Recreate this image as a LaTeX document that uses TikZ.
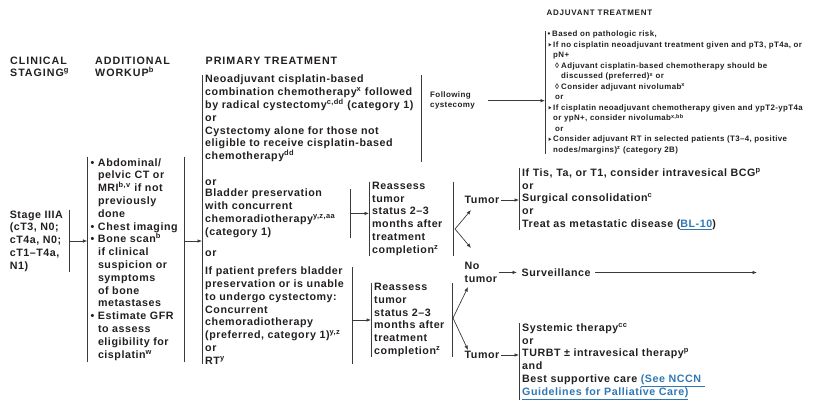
\documentclass[tikz,border=0pt]{standalone}
\usepackage{fontspec}
\setmainfont{Liberation Sans}[LetterSpace=5]
\newfontfamily\headfam{Liberation Sans}[LetterSpace=9]
\usepackage{xcolor}
\usetikzlibrary{arrows.meta}
\definecolor{ink}{HTML}{231F20}
\definecolor{rulegray}{HTML}{3A3A3A}
\definecolor{linkblue}{HTML}{2F78B4}
\newcommand{\bodyfont}{\fontsize{10.7}{12.8}\selectfont\bfseries}
\newcommand{\headfont}{\headfam\fontsize{10.7}{12.3}\selectfont\bfseries}
\newcommand{\adjheadfont}{\headfam\fontsize{8}{10}\selectfont\bfseries}
\newcommand{\adjfont}{\fontsize{7.9}{10.5}\selectfont\bfseries}
\newcommand{\followfont}{\fontsize{8}{10}\selectfont\bfseries}
\newcommand{\lnk}[1]{\textcolor{linkblue}{\underline{#1}}}
\newcommand{\bul}{\makebox[7.5pt][l]{•}}
\newcommand{\cont}{\hspace*{7.5pt}}
\newcommand{\adjbul}{\makebox[4.5pt][l]{•}}
\newcommand{\tri}{\hspace*{0.8pt}\makebox[4.7pt][l]{\tikz[baseline=0pt]\fill[ink] (0pt,1pt) -- (0pt,4.4pt) -- (2.8pt,2.7pt) -- cycle;}}
\newcommand{\dia}{\makebox[6pt][l]{◊}}
\tikzset{
  txt/.style={font=\bodyfont, text=ink, align=left, anchor=north west, inner xsep=3pt, inner ysep=0pt},
  word/.style={font=\bodyfont, text=ink, align=left, anchor=west, inner xsep=1.5pt, inner ysep=0pt},
  head/.style={font=\headfont, text=ink, align=left, anchor=west, inner sep=0pt},
  brk/.style={draw=rulegray, line width=0.7pt},
  arr/.style={-{Latex[length=4.5pt,width=3.6pt]}, draw=rulegray, line width=0.7pt},
}

\begin{document}
\begin{tikzpicture}[x=1pt, y=-1pt]
\useasboundingbox (0,0) rectangle (819,400);

% column headings
\node[head] (hstage) at (10,66.9) {CLINICAL\\STAGING\textsuperscript{g}};
\node[head] (hwork) at (95,66.9) {ADDITIONAL\\WORKUP\textsuperscript{b}};
\node[head] (hprim) at (205.5,60.7) {PRIMARY TREATMENT};
\node[head, font=\adjheadfont] (hadj) at (546.5,12.7) {ADJUVANT TREATMENT};

% staging and workup
\node[txt, anchor=east, text width=56pt, minimum height=62pt] (stage) at (69,241)
  {Stage IIIA\\(cT3, N0;\\cT4a, N0;\\cT1–T4a,\\N1)};
\node[txt, text width=91pt, minimum height=205pt] (workup) at (87.3,156.7)
  {\bul Abdominal/\\\cont pelvic CT or\\\cont MRI\textsuperscript{b,v} if not\\\cont previously\\\cont done\\
   \bul Chest imaging\\\bul Bone scan\textsuperscript{b}\\\cont if clinical\\\cont suspicion or\\\cont symptoms\\
   \cont of bone\\\cont metastases\\\bul Estimate GFR\\\cont to assess\\\cont eligibility for\\\cont cisplatin\textsuperscript{w}};

% primary treatment
\node[txt, text width=213pt] (prim1) at (202,75)
  {Neoadjuvant cisplatin-based\\combination chemotherapy\textsuperscript{x} followed\\by radical cystectomy\textsuperscript{c,dd} (category 1)\\or\\
   Cystectomy alone for those not\\eligible to receive cisplatin-based\\chemotherapy\textsuperscript{dd}};
\node[txt, anchor=west] (or1) at (202,183) {or};
\node[txt, text width=142pt] (prim2) at (202,189)
  {Bladder preservation\\with concurrent\\chemoradiotherapy\textsuperscript{y,z,aa}\\(category 1)};
\node[txt, anchor=west] (or2) at (202,254) {or};
\node[txt, text width=143.7pt] (prim3) at (202,266.7)
  {If patient prefers bladder\\preservation or is unable\\to undergo cystectomy:\\Concurrent\\chemoradiotherapy\\
   (preferred, category 1)\textsuperscript{y,z}\\or\\RT\textsuperscript{y}};

% reassessment
\node[txt, text width=78pt] (reas1) at (369,181.7)
  {Reassess\\tumor\\status 2–3\\months after\\treatment\\completion\textsuperscript{z}};
\node[txt, text width=75pt] (reas2) at (371,283)
  {Reassess\\tumor\\status 2–3\\months after\\treatment\\completion\textsuperscript{z}};

% outcomes
\node[word] (tumor1) at (463,200) {Tumor};
\node[word] (notumor) at (463,272.4) {No\\tumor};
\node[word] (tumor2) at (463,355) {Tumor};
\node[txt, text width=295pt] (out1) at (519,168)
  {If Tis, Ta, or T1, consider intravesical BCG\textsuperscript{p}\\or\\Surgical consolidation\textsuperscript{c}\\or\\
   Treat as metastatic disease (\lnk{BL-10})};
\node[txt, anchor=west, inner xsep=4.5pt] (surv) at (517,272.5) {Surveillance};
\coordinate (survend) at (757,272.5);
\node[txt, text width=295pt] (out2) at (519,323)
  {Systemic therapy\textsuperscript{cc}\\or\\TURBT ± intravesical therapy\textsuperscript{p}\\and\\
   Best supportive care \lnk{(See NCCN\ }\\\lnk{Guidelines for Palliative Care)}};

% adjuvant
\node[txt, font=\followfont, anchor=west] (follow) at (427,100.7) {Following\\cystecomy};
\node[txt, font=\adjfont, text width=268pt, inner xsep=2.5pt] (adj) at (545,31)
  {\adjbul Based on pathologic risk,\\
   \tri If no cisplatin neoadjuvant treatment given and pT3, pT4a, or\\
   \hspace*{5.5pt}pN+\\
   \hspace*{7.5pt}\dia Adjuvant cisplatin-based chemotherapy should be\\
   \hspace*{13.5pt}discussed (preferred)\textsuperscript{x} or\\
   \hspace*{7.5pt}\dia Consider adjuvant nivolumab\textsuperscript{x}\\
   \hspace*{7.5pt}or\\
   \tri If cisplatin neoadjuvant chemotherapy given and ypT2-ypT4a\\
   \hspace*{5.5pt}or ypN+, consider nivolumab\textsuperscript{x,bb}\\
   \hspace*{7.5pt}or\\
   \tri Consider adjuvant RT in selected patients (T3–4, positive\\
   \hspace*{5.5pt}nodes/margins)\textsuperscript{z} (category 2B)};

% bracket lines
\draw[brk] (stage.north east) -- (stage.south east);
\draw[brk] (workup.north west) -- (workup.south west);
\draw[brk] (workup.north east) -- (workup.south east);
\draw[brk] (prim1.north west) -- (prim3.south west);
\draw[brk] (prim1.north east) -- (prim1.south east);
\draw[brk] (prim2.north east) -- (prim2.south east);
\draw[brk] (prim3.north east) -- (prim3.south east);
\draw[brk] (reas1.north west) -- (reas1.south west);
\draw[brk] (reas1.north east) -- (reas1.south east);
\draw[brk] (reas2.north west) -- (reas2.south west);
\draw[brk] (reas2.north east) -- (reas2.south east);
\draw[brk] (out1.north west) -- (out1.south west);
\draw[brk] (out2.north west) -- (out2.south west);
\draw[brk] (adj.north west) -- (adj.south west);

% connectors
\draw[arr] (stage.east) -- (stage.east -| workup.west);
\draw[arr] (stage.east -| workup.east) -- (stage.east -| prim1.west);
\draw[arr] (prim2.east) -- (prim2.east -| reas1.west);
\draw[arr] (reas2.west -| prim3.east) -- (reas2.west);
\draw[arr, shorten <=10pt] (follow.east) -- (follow.east -| adj.west);
\coordinate (fork1) at (455,229);
\coordinate (fork1a) at (471,210);
\coordinate (fork1b) at (471,248);
\draw[arr] (fork1) -- (fork1a);
\draw[arr] (fork1) -- (fork1b);
\coordinate (fork2) at (453,318);
\coordinate (fork2a) at (468,287);
\coordinate (fork2b) at (468,350);
\draw[arr] (fork2) -- (fork2a);
\draw[arr] (fork2) -- (fork2b);
\draw[arr] (tumor1.east) -- (tumor1.east -| out1.west);
\draw[arr] (notumor.east) -- (notumor.east -| surv.west);
\draw[arr] (surv.east) -- (survend);
\draw[arr] (tumor2.east) -- (tumor2.east -| out2.west);
\end{tikzpicture}
\end{document}
